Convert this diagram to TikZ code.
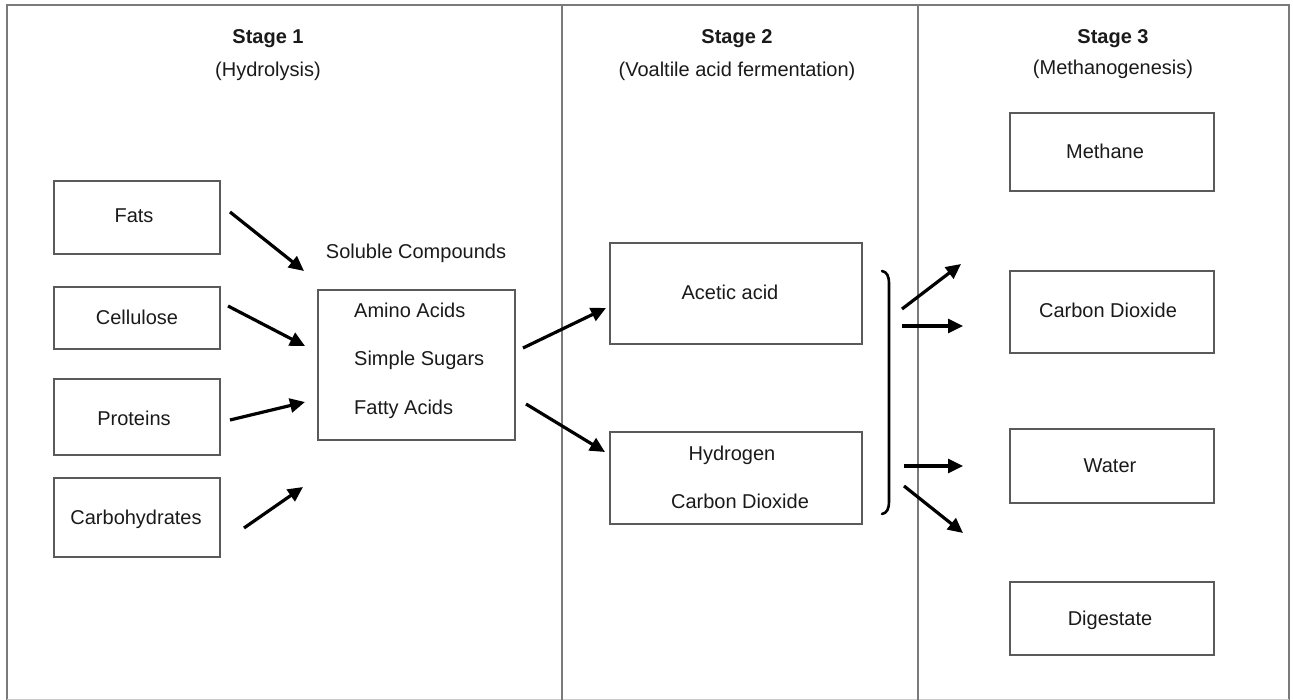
\documentclass[tikz,border=0pt]{standalone}
\usepackage{fontspec}
\setmainfont{Liberation Sans}
\usetikzlibrary{arrows.meta}
\definecolor{txt}{HTML}{1A1A1A}
\definecolor{boxc}{HTML}{5A5A5A}
\definecolor{framec}{HTML}{7A7A7A}
\begin{document}
\begin{tikzpicture}[x=1pt,y=-1pt,
  every node/.style={font=\fontsize{20}{24}\selectfont, text=txt},
  box/.style={draw=boxc, line width=1.4pt, rectangle, inner sep=0pt, align=center},
  lbl/.style={inner sep=0pt, anchor=base},
  arr/.style={line width=3.2pt, black, -{Triangle[length=15pt,width=14pt]}},
  frame/.style={draw=framec, line width=1.8pt}
]
\useasboundingbox (0,0) rectangle (1293,700);
% frame
\draw[frame] (7,700) -- (7,5) -- (1289,5) -- (1289,700);
\draw[draw=framec!40, line width=1pt] (7,699) -- (1289,699);
\draw[frame, line width=1.4pt] (562,5) -- (562,700);
\draw[frame, line width=1.4pt] (918,5) -- (918,700);

% headers
\node[lbl, font=\fontsize{20}{24}\selectfont\bfseries] (s1) at (268,44) {Stage 1};
\node[lbl] (s1b) at (268,77) {(Hydrolysis)};
\node[lbl, font=\fontsize{20}{24}\selectfont\bfseries] (s2) at (737,44) {Stage 2};
\node[lbl] (s2b) at (737,77) {(Voaltile acid fermentation)};
\node[lbl, font=\fontsize{20}{24}\selectfont\bfseries] (s3) at (1113,44) {Stage 3};
\node[lbl] (s3b) at (1113,75) {(Methanogenesis)};

% stage 1 boxes
\node[box, minimum width=166pt, minimum height=73pt] (fats) at (137,217.5) {};
\node[box, minimum width=166pt, minimum height=62pt] (cell) at (137,318) {};
\node[box, minimum width=166pt, minimum height=76pt] (prot) at (137,417) {};
\node[box, minimum width=166pt, minimum height=79pt] (carb) at (137,517.5) {};
\node[lbl] (fatst) at (134,223) {Fats};
\node[lbl] (cellt) at (137,325) {Cellulose};
\node[lbl] (prott) at (134,425) {Proteins};
\node[lbl] (carbt) at (136,524) {Carbohydrates};

% soluble compounds
\node[lbl] (solt) at (416,259) {Soluble Compounds};
\node[box, minimum width=197pt, minimum height=150pt] (sol) at (416.5,365) {};
\node[lbl, anchor=base west] (amino) at (354,318) {Amino Acids};
\node[lbl, anchor=base west] (sugar) at (354,366) {Simple Sugars};
\node[lbl, anchor=base west] (fatty) at (354,414) {Fatty Acids};

% stage 2 boxes
\node[box, minimum width=252pt, minimum height=101pt] (acet) at (736,293.5) {};
\node[lbl] (acett) at (730,300) {Acetic acid};
\node[box, minimum width=252pt, minimum height=92pt] (hyd) at (736,478) {};
\node[lbl] (hydt) at (732,460) {Hydrogen};
\node[lbl] (co2t) at (740,508) {Carbon Dioxide};

% stage 3 boxes
\node[box, minimum width=204pt, minimum height=78pt] (meth) at (1112,152) {};
\node[box, minimum width=204pt, minimum height=82pt] (co2) at (1112,312) {};
\node[box, minimum width=204pt, minimum height=74pt] (water) at (1112,466) {};
\node[box, minimum width=204pt, minimum height=73pt] (dig) at (1112,618.5) {};
\node[lbl] (metht) at (1105,159) {Methane};
\node[lbl] (co2bt) at (1108,318) {Carbon Dioxide};
\node[lbl] (watert) at (1110,472) {Water};
\node[lbl] (digt) at (1110,625) {Digestate};

% arrow end coordinates
\coordinate (a1s) at (230,212); \coordinate (a1e) at (304,271);
\coordinate (a2s) at (228,306); \coordinate (a2e) at (305,346);
\coordinate (a3s) at (230,420); \coordinate (a3e) at (305,402);
\coordinate (a4s) at (244,528); \coordinate (a4e) at (303,487);
\coordinate (b1s) at (523,348); \coordinate (b1e) at (606,308);
\coordinate (b2s) at (526,404); \coordinate (b2e) at (605,452);
\coordinate (c1s) at (902,309); \coordinate (c1e) at (961,264);
\coordinate (c2s) at (902,326); \coordinate (c2e) at (963,326);
\coordinate (c3s) at (904,466); \coordinate (c3e) at (963,466);
\coordinate (c4s) at (904,486); \coordinate (c4e) at (963,533);

\draw[arr] (a1s) -- (a1e);
\draw[arr] (a2s) -- (a2e);
\draw[arr] (a3s) -- (a3e);
\draw[arr] (a4s) -- (a4e);
\draw[arr] (b1s) -- (b1e);
\draw[arr] (b2s) -- (b2e);
\draw[arr] (c1s) -- (c1e);
\draw[arr] (c2s) -- (c2e);
\draw[arr] (c3s) -- (c3e);
\draw[arr] (c4s) -- (c4e);

% brace
\coordinate (brt) at (882,271);
\coordinate (brb) at (882,514);
\draw[line width=2.6pt, black, line cap=round]
  (brt) .. controls (887,272) and (889,276) .. (889,284)
  -- (889,501) .. controls (889,509) and (887,513) .. (brb);
\end{tikzpicture}
\end{document}
